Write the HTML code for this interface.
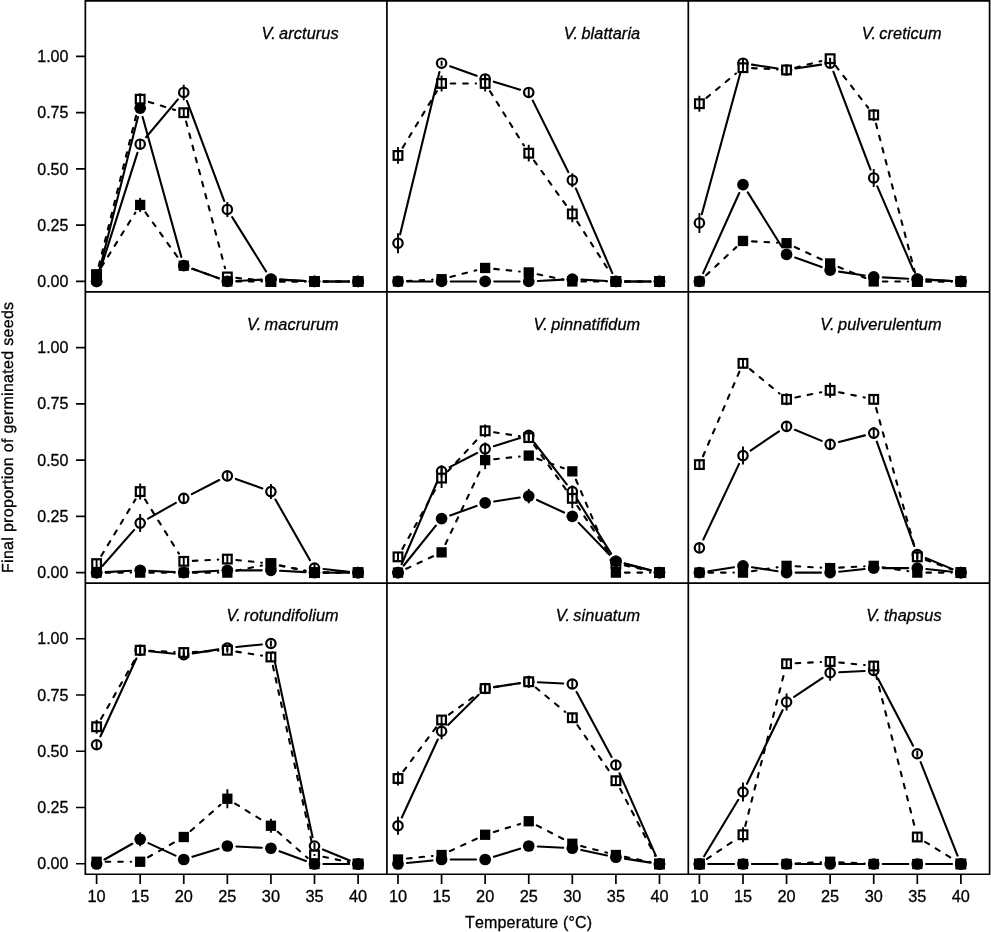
<!DOCTYPE html>
<html lang="en"><head><meta charset="utf-8"><title>Germination vs temperature</title>
<style>html,body{margin:0;padding:0;background:#fff}svg{display:block}</style></head>
<body>
<svg width="991" height="932" viewBox="0 0 991 932" font-family="'Liberation Sans', Arial, Helvetica, sans-serif" font-size="16" fill="#000" style="font-kerning:none" stroke="#000" stroke-width="0.3">
<rect width="991" height="932" fill="#fff" stroke="none"/>
<path d="M85.35 -0.05V875.12M386.9 -0.05V875.12M688.3 -0.05V875.12M989.6 -0.05V875.12M84.5 0.8H990.45M84.5 291.97H990.45M84.5 583.12H990.45M84.5 874.27H990.45M76.05 281.45H85.35M76.05 225.2H85.35M76.05 168.95H85.35M76.05 112.7H85.35M76.05 56.45H85.35M76.05 572.6H85.35M76.05 516.35H85.35M76.05 460.1H85.35M76.05 403.85H85.35M76.05 347.6H85.35M76.05 863.75H85.35M76.05 807.5H85.35M76.05 751.25H85.35M76.05 695H85.35M76.05 638.75H85.35M96.6 874.27V884.07M140.18 874.27V884.07M183.76 874.27V884.07M227.34 874.27V884.07M270.92 874.27V884.07M314.5 874.27V884.07M358.08 874.27V884.07M398 874.27V884.07M441.58 874.27V884.07M485.16 874.27V884.07M528.74 874.27V884.07M572.32 874.27V884.07M615.9 874.27V884.07M659.48 874.27V884.07M699.4 874.27V884.07M742.98 874.27V884.07M786.56 874.27V884.07M830.14 874.27V884.07M873.72 874.27V884.07M917.3 874.27V884.07M960.88 874.27V884.07" stroke="#000" stroke-width="1.7" fill="none"/>
<g text-anchor="end">
<text x="68.4" y="287.05">0.00</text>
<text x="68.4" y="230.8">0.25</text>
<text x="68.4" y="174.55">0.50</text>
<text x="68.4" y="118.3">0.75</text>
<text x="68.4" y="62.05">1.00</text>
<text x="68.4" y="578.2">0.00</text>
<text x="68.4" y="521.95">0.25</text>
<text x="68.4" y="465.7">0.50</text>
<text x="68.4" y="409.45">0.75</text>
<text x="68.4" y="353.2">1.00</text>
<text x="68.4" y="869.35">0.00</text>
<text x="68.4" y="813.1">0.25</text>
<text x="68.4" y="756.85">0.50</text>
<text x="68.4" y="700.6">0.75</text>
<text x="68.4" y="644.35">1.00</text>
</g>
<g text-anchor="middle" font-size="16.3">
<text x="96.6" y="902.2">10</text>
<text x="140.18" y="902.2">15</text>
<text x="183.76" y="902.2">20</text>
<text x="227.34" y="902.2">25</text>
<text x="270.92" y="902.2">30</text>
<text x="314.5" y="902.2">35</text>
<text x="358.08" y="902.2">40</text>
<text x="398" y="902.2">10</text>
<text x="441.58" y="902.2">15</text>
<text x="485.16" y="902.2">20</text>
<text x="528.74" y="902.2">25</text>
<text x="572.32" y="902.2">30</text>
<text x="615.9" y="902.2">35</text>
<text x="659.48" y="902.2">40</text>
<text x="699.4" y="902.2">10</text>
<text x="742.98" y="902.2">15</text>
<text x="786.56" y="902.2">20</text>
<text x="830.14" y="902.2">25</text>
<text x="873.72" y="902.2">30</text>
<text x="917.3" y="902.2">35</text>
<text x="960.88" y="902.2">40</text>
</g>
<g text-anchor="middle">
<text x="528.7" y="927.5" letter-spacing="0.16">Temperature (°C)</text>
<text transform="translate(12.75 437.3) rotate(-90)" letter-spacing="0.3" text-rendering="geometricPrecision">Final proportion of germinated seeds</text>
</g>
<g text-anchor="end" font-style="italic" font-size="16.3" style="font-kerning:normal" word-spacing="-1.4" letter-spacing="0.11">
<text x="338.75" y="38.7">V. arcturus</text>
<text x="640.3" y="38.7">V. blattaria</text>
<text x="941.7" y="38.7">V. creticum</text>
<text x="338.75" y="329.85">V. macrurum</text>
<text x="640.3" y="329.85">V. pinnatifidum</text>
<text x="941.7" y="329.85">V. pulverulentum</text>
<text x="338.75" y="621">V. rotundifolium</text>
<text x="640.3" y="621">V. sinuatum</text>
<text x="941.7" y="621">V. thapsus</text>
</g>
<g stroke="#000" stroke-width="2.1" fill="none" stroke-linecap="round">
<path d="M99.35 272.78L137.43 152.87M146.04 137.24L177.9 99.41M186.94 100.98L224.16 200.92M232.16 217.17L266.1 271.48M280.01 279.67L305.41 280.98M323.6 281.45L348.98 281.45"/>
<circle cx="96.6" cy="281.45" r="4.7" stroke-width="2.2" fill="#fff"/><circle cx="140.18" cy="144.2" r="4.7" stroke-width="2.2" fill="#fff"/><circle cx="183.76" cy="92.45" r="4.7" stroke-width="2.2" fill="#fff"/><circle cx="227.34" cy="209.45" r="4.7" stroke-width="2.2" fill="#fff"/><circle cx="270.92" cy="279.2" r="4.7" stroke-width="2.2" fill="#fff"/><circle cx="314.5" cy="281.45" r="4.7" stroke-width="2.2" fill="#fff"/><circle cx="358.08" cy="281.45" r="4.7" stroke-width="2.2" fill="#fff"/>
<path d="M98.79 265.87L137.99 108.03M148.87 101.89L175.07 110.01M186.09 121.5L225.01 268.15M236.39 277.88L261.87 280.52M280.02 281.45L305.4 281.45M323.6 281.45L348.98 281.45" stroke-dasharray="4.6 7.9"/>
<rect x="92.25" y="270.35" width="8.7" height="8.7" stroke-width="2.2" fill="#fff"/><rect x="135.83" y="94.85" width="8.7" height="8.7" stroke-width="2.2" fill="#fff"/><rect x="179.41" y="108.35" width="8.7" height="8.7" stroke-width="2.2" fill="#fff"/><rect x="222.99" y="272.6" width="8.7" height="8.7" stroke-width="2.2" fill="#fff"/><rect x="266.57" y="277.1" width="8.7" height="8.7" stroke-width="2.2" fill="#fff"/><rect x="310.15" y="277.1" width="8.7" height="8.7" stroke-width="2.2" fill="#fff"/><rect x="353.73" y="277.1" width="8.7" height="8.7" stroke-width="2.2" fill="#fff"/>
<path d="M140.18 139.7V148.7M183.76 84.65V100.25M227.34 201.95V216.95M270.92 274.7V283.7" stroke-linecap="butt" stroke-width="1.9"/>
<path d="M96.6 270.2V279.2M140.18 93.2V105.2M183.76 107.7V117.7M227.34 275.95V277.95" stroke-linecap="butt" stroke-width="1.9"/>
<path d="M98.82 272.62L137.96 117.03M142.61 116.97L181.33 256.93M192.32 268.79L218.78 278.36M236.43 280.98L261.83 279.67M280.01 279.67L305.41 280.98M323.6 281.45L348.98 281.45"/>
<circle cx="96.6" cy="281.45" r="5.85" fill="#000" stroke="none"/><circle cx="140.18" cy="108.2" r="5.85" fill="#000" stroke="none"/><circle cx="183.76" cy="265.7" r="5.85" fill="#000" stroke="none"/><circle cx="227.34" cy="281.45" r="5.85" fill="#000" stroke="none"/><circle cx="270.92" cy="279.2" r="5.85" fill="#000" stroke="none"/><circle cx="314.5" cy="281.45" r="5.85" fill="#000" stroke="none"/><circle cx="358.08" cy="281.45" r="5.85" fill="#000" stroke="none"/>
<path d="M101.42 266.98L135.36 212.67M145.48 212.34L178.46 258.31M192.32 268.79L218.78 278.36M236.44 281.45L261.82 281.45M280.02 281.45L305.4 281.45M323.6 281.45L348.98 281.45" stroke-dasharray="4.6 7.9"/>
<rect x="91.45" y="269.55" width="10.3" height="10.3" fill="#000" stroke="none"/><rect x="135.03" y="199.8" width="10.3" height="10.3" fill="#000" stroke="none"/><rect x="178.61" y="260.55" width="10.3" height="10.3" fill="#000" stroke="none"/><rect x="222.19" y="276.3" width="10.3" height="10.3" fill="#000" stroke="none"/><rect x="265.77" y="276.3" width="10.3" height="10.3" fill="#000" stroke="none"/><rect x="309.35" y="276.3" width="10.3" height="10.3" fill="#000" stroke="none"/><rect x="352.93" y="276.3" width="10.3" height="10.3" fill="#000" stroke="none"/>
<path d="M140.18 197.95V211.95" stroke-linecap="butt" stroke-width="1.9"/>
</g>
<g stroke="#000" stroke-width="2.1" fill="none" stroke-linecap="round">
<path d="M400.14 234.36L439.44 72.04M450.14 66.29L476.6 75.86M493.85 81.64L520.05 89.76M532.79 100.6L568.27 172.05M575.92 188.56L612.3 273.09M625 281.45L650.38 281.45"/>
<circle cx="398" cy="243.2" r="4.7" stroke-width="2.2" fill="#fff"/><circle cx="441.58" cy="63.2" r="4.7" stroke-width="2.2" fill="#fff"/><circle cx="485.16" cy="78.95" r="4.7" stroke-width="2.2" fill="#fff"/><circle cx="528.74" cy="92.45" r="4.7" stroke-width="2.2" fill="#fff"/><circle cx="572.32" cy="180.2" r="4.7" stroke-width="2.2" fill="#fff"/><circle cx="615.9" cy="281.45" r="4.7" stroke-width="2.2" fill="#fff"/><circle cx="659.48" cy="281.45" r="4.7" stroke-width="2.2" fill="#fff"/>
<path d="M402.71 147.66L436.87 91.24M450.68 83.45L476.06 83.45M489.98 91.17L523.92 145.48M534.04 160.59L567.02 206.56M577.26 221.6L610.96 273.8M625 281.45L650.38 281.45" stroke-dasharray="4.6 7.9"/>
<rect x="393.65" y="151.1" width="8.7" height="8.7" stroke-width="2.2" fill="#fff"/><rect x="437.23" y="79.1" width="8.7" height="8.7" stroke-width="2.2" fill="#fff"/><rect x="480.81" y="79.1" width="8.7" height="8.7" stroke-width="2.2" fill="#fff"/><rect x="524.39" y="148.85" width="8.7" height="8.7" stroke-width="2.2" fill="#fff"/><rect x="567.97" y="209.6" width="8.7" height="8.7" stroke-width="2.2" fill="#fff"/><rect x="611.55" y="277.1" width="8.7" height="8.7" stroke-width="2.2" fill="#fff"/><rect x="655.13" y="277.1" width="8.7" height="8.7" stroke-width="2.2" fill="#fff"/>
<path d="M398 233.2V253.2M441.58 60.7V65.7M485.16 73.95V83.95M528.74 87.45V97.45M572.32 173.2V187.2" stroke-linecap="butt" stroke-width="1.9"/>
<path d="M398 147.05V163.85M441.58 75.45V91.45M485.16 75.45V91.45M528.74 144.8V161.6M572.32 205.55V222.35" stroke-linecap="butt" stroke-width="1.9"/>
<path d="M407.1 281.45L432.48 281.45M450.68 281.45L476.06 281.45M494.26 281.45L519.64 281.45M537.83 280.98L563.23 279.67M581.41 279.67L606.81 280.98M625 281.45L650.38 281.45"/>
<circle cx="398" cy="281.45" r="5.85" fill="#000" stroke="none"/><circle cx="441.58" cy="281.45" r="5.85" fill="#000" stroke="none"/><circle cx="485.16" cy="281.45" r="5.85" fill="#000" stroke="none"/><circle cx="528.74" cy="281.45" r="5.85" fill="#000" stroke="none"/><circle cx="572.32" cy="279.2" r="5.85" fill="#000" stroke="none"/><circle cx="615.9" cy="281.45" r="5.85" fill="#000" stroke="none"/><circle cx="659.48" cy="281.45" r="5.85" fill="#000" stroke="none"/>
<path d="M407.09 280.98L432.49 279.67M450.39 276.93L476.35 270.22M494.21 268.88L519.69 271.52M537.65 274.29L563.41 279.61M581.42 281.45L606.8 281.45M625 281.45L650.38 281.45" stroke-dasharray="4.6 7.9"/>
<rect x="392.85" y="276.3" width="10.3" height="10.3" fill="#000" stroke="none"/><rect x="436.43" y="274.05" width="10.3" height="10.3" fill="#000" stroke="none"/><rect x="480.01" y="262.8" width="10.3" height="10.3" fill="#000" stroke="none"/><rect x="523.59" y="267.3" width="10.3" height="10.3" fill="#000" stroke="none"/><rect x="567.17" y="276.3" width="10.3" height="10.3" fill="#000" stroke="none"/><rect x="610.75" y="276.3" width="10.3" height="10.3" fill="#000" stroke="none"/><rect x="654.33" y="276.3" width="10.3" height="10.3" fill="#000" stroke="none"/>
</g>
<g stroke="#000" stroke-width="2.1" fill="none" stroke-linecap="round">
<path d="M701.79 214.17L740.59 71.98M751.97 64.59L777.57 68.56M795.55 68.56L821.15 64.59M833.37 71.71L870.49 169.44M877.32 186.31L913.7 270.84M926.39 279.67L951.79 280.98"/>
<circle cx="699.4" cy="222.95" r="4.7" stroke-width="2.2" fill="#fff"/><circle cx="742.98" cy="63.2" r="4.7" stroke-width="2.2" fill="#fff"/><circle cx="786.56" cy="69.95" r="4.7" stroke-width="2.2" fill="#fff"/><circle cx="830.14" cy="63.2" r="4.7" stroke-width="2.2" fill="#fff"/><circle cx="873.72" cy="177.95" r="4.7" stroke-width="2.2" fill="#fff"/><circle cx="917.3" cy="279.2" r="4.7" stroke-width="2.2" fill="#fff"/><circle cx="960.88" cy="281.45" r="4.7" stroke-width="2.2" fill="#fff"/>
<path d="M706.42 97.9L735.96 73.5M752.07 68.17L777.47 69.48M795.37 67.68L821.33 60.97M835.71 65.89L868.15 107.76M876.02 123.75L915 272.65M926.4 281.45L951.78 281.45" stroke-dasharray="4.6 7.9"/>
<rect x="695.05" y="99.35" width="8.7" height="8.7" stroke-width="2.2" fill="#fff"/><rect x="738.63" y="63.35" width="8.7" height="8.7" stroke-width="2.2" fill="#fff"/><rect x="782.21" y="65.6" width="8.7" height="8.7" stroke-width="2.2" fill="#fff"/><rect x="825.79" y="54.35" width="8.7" height="8.7" stroke-width="2.2" fill="#fff"/><rect x="869.37" y="110.6" width="8.7" height="8.7" stroke-width="2.2" fill="#fff"/><rect x="912.95" y="277.1" width="8.7" height="8.7" stroke-width="2.2" fill="#fff"/><rect x="956.53" y="277.1" width="8.7" height="8.7" stroke-width="2.2" fill="#fff"/>
<path d="M699.4 212.95V232.95M742.98 58.2V68.2M786.56 65.95V73.95M830.14 58.6V67.8M873.72 168.95V186.95M917.3 274.7V283.7" stroke-linecap="butt" stroke-width="1.9"/>
<path d="M699.4 95.7V111.7M742.98 62.7V72.7M786.56 64.95V74.95M830.14 57.7V59.7M873.72 108.95V120.95" stroke-linecap="butt" stroke-width="1.9"/>
<path d="M703.14 273.15L739.24 193M747.8 192.42L781.74 246.73M795.12 257.54L821.58 267.11M839.13 271.59L864.73 275.56M882.81 277.42L908.21 278.73M926.39 279.67L951.79 280.98"/>
<circle cx="699.4" cy="281.45" r="5.85" fill="#000" stroke="none"/><circle cx="742.98" cy="184.7" r="5.85" fill="#000" stroke="none"/><circle cx="786.56" cy="254.45" r="5.85" fill="#000" stroke="none"/><circle cx="830.14" cy="270.2" r="5.85" fill="#000" stroke="none"/><circle cx="873.72" cy="276.95" r="5.85" fill="#000" stroke="none"/><circle cx="917.3" cy="279.2" r="5.85" fill="#000" stroke="none"/><circle cx="960.88" cy="281.45" r="5.85" fill="#000" stroke="none"/>
<path d="M706.07 275.26L736.31 247.14M752.07 241.42L777.47 242.73M794.81 247.03L821.89 259.62M838.55 266.92L865.31 277.98M882.82 281.45L908.2 281.45M926.4 281.45L951.78 281.45" stroke-dasharray="4.6 7.9"/>
<rect x="694.25" y="276.3" width="10.3" height="10.3" fill="#000" stroke="none"/><rect x="737.83" y="235.8" width="10.3" height="10.3" fill="#000" stroke="none"/><rect x="781.41" y="238.05" width="10.3" height="10.3" fill="#000" stroke="none"/><rect x="824.99" y="258.3" width="10.3" height="10.3" fill="#000" stroke="none"/><rect x="868.57" y="276.3" width="10.3" height="10.3" fill="#000" stroke="none"/><rect x="912.15" y="276.3" width="10.3" height="10.3" fill="#000" stroke="none"/><rect x="955.73" y="276.3" width="10.3" height="10.3" fill="#000" stroke="none"/>
</g>
<g stroke="#000" stroke-width="2.1" fill="none" stroke-linecap="round">
<path d="M102.61 565.77L134.17 529.93M148.09 518.61L175.85 502.84M191.85 494.18L219.25 480.02M235.9 478.94L262.36 488.51M275.42 499.51L310 560.19M323.55 569.03L349.03 571.67"/>
<circle cx="96.6" cy="572.6" r="4.7" stroke-width="2.2" fill="#fff"/><circle cx="140.18" cy="523.1" r="4.7" stroke-width="2.2" fill="#fff"/><circle cx="183.76" cy="498.35" r="4.7" stroke-width="2.2" fill="#fff"/><circle cx="227.34" cy="475.85" r="4.7" stroke-width="2.2" fill="#fff"/><circle cx="270.92" cy="491.6" r="4.7" stroke-width="2.2" fill="#fff"/><circle cx="314.5" cy="568.1" r="4.7" stroke-width="2.2" fill="#fff"/><circle cx="358.08" cy="572.6" r="4.7" stroke-width="2.2" fill="#fff"/>
<path d="M101.31 555.81L135.47 499.39M145 499.32L178.94 553.63M192.85 560.88L218.25 559.57M236.39 560.03L261.87 562.67M279.83 565.44L305.59 570.76M323.6 572.6L348.98 572.6" stroke-dasharray="4.6 7.9"/>
<rect x="92.25" y="559.25" width="8.7" height="8.7" stroke-width="2.2" fill="#fff"/><rect x="135.83" y="487.25" width="8.7" height="8.7" stroke-width="2.2" fill="#fff"/><rect x="179.41" y="557" width="8.7" height="8.7" stroke-width="2.2" fill="#fff"/><rect x="222.99" y="554.75" width="8.7" height="8.7" stroke-width="2.2" fill="#fff"/><rect x="266.57" y="559.25" width="8.7" height="8.7" stroke-width="2.2" fill="#fff"/><rect x="310.15" y="568.25" width="8.7" height="8.7" stroke-width="2.2" fill="#fff"/><rect x="353.73" y="568.25" width="8.7" height="8.7" stroke-width="2.2" fill="#fff"/>
<path d="M140.18 514.1V532.1M183.76 494.35V502.35M227.34 471.85V479.85M270.92 484.1V499.1M314.5 563.6V572.6" stroke-linecap="butt" stroke-width="1.9"/>
<path d="M96.6 559.6V567.6M140.18 483.6V499.6M183.76 556.35V566.35M227.34 554.1V564.1M270.92 559.1V568.1" stroke-linecap="butt" stroke-width="1.9"/>
<path d="M105.69 572.13L131.09 570.82M149.27 570.82L174.67 572.13M192.85 572.13L218.25 570.82M236.44 570.35L261.82 570.35M280.01 570.82L305.41 572.13M323.6 572.6L348.98 572.6"/>
<circle cx="96.6" cy="572.6" r="5.85" fill="#000" stroke="none"/><circle cx="140.18" cy="570.35" r="5.85" fill="#000" stroke="none"/><circle cx="183.76" cy="572.6" r="5.85" fill="#000" stroke="none"/><circle cx="227.34" cy="570.35" r="5.85" fill="#000" stroke="none"/><circle cx="270.92" cy="570.35" r="5.85" fill="#000" stroke="none"/><circle cx="314.5" cy="572.6" r="5.85" fill="#000" stroke="none"/><circle cx="358.08" cy="572.6" r="5.85" fill="#000" stroke="none"/>
<path d="M105.7 572.6L131.08 572.6M149.28 572.6L174.66 572.6M192.86 572.6L218.24 572.6M236.25 570.76L262.01 565.44M279.83 565.44L305.59 570.76M323.6 572.6L348.98 572.6" stroke-dasharray="4.6 7.9"/>
<rect x="91.45" y="567.45" width="10.3" height="10.3" fill="#000" stroke="none"/><rect x="135.03" y="567.45" width="10.3" height="10.3" fill="#000" stroke="none"/><rect x="178.61" y="567.45" width="10.3" height="10.3" fill="#000" stroke="none"/><rect x="222.19" y="567.45" width="10.3" height="10.3" fill="#000" stroke="none"/><rect x="265.77" y="558.45" width="10.3" height="10.3" fill="#000" stroke="none"/><rect x="309.35" y="567.45" width="10.3" height="10.3" fill="#000" stroke="none"/><rect x="352.93" y="567.45" width="10.3" height="10.3" fill="#000" stroke="none"/>
</g>
<g stroke="#000" stroke-width="2.1" fill="none" stroke-linecap="round">
<path d="M401.6 564.24L437.98 479.71M449.67 467.18L477.07 453.02M493.85 446.16L520.05 438.04M534.31 442.54L566.75 484.41M577.14 499.32L611.08 553.63M624.71 563.62L650.67 570.33"/>
<circle cx="398" cy="572.6" r="4.7" stroke-width="2.2" fill="#fff"/><circle cx="441.58" cy="471.35" r="4.7" stroke-width="2.2" fill="#fff"/><circle cx="485.16" cy="448.85" r="4.7" stroke-width="2.2" fill="#fff"/><circle cx="528.74" cy="435.35" r="4.7" stroke-width="2.2" fill="#fff"/><circle cx="572.32" cy="491.6" r="4.7" stroke-width="2.2" fill="#fff"/><circle cx="615.9" cy="561.35" r="4.7" stroke-width="2.2" fill="#fff"/><circle cx="659.48" cy="572.6" r="4.7" stroke-width="2.2" fill="#fff"/>
<path d="M402.41 548.89L437.17 486.06M447.75 471.41L478.99 437.54M494.15 432.24L519.75 436.21M534.04 444.99L567.02 490.96M577.37 505.92L610.85 556.03M624.81 565.44L650.57 570.76" stroke-dasharray="4.6 7.9"/>
<rect x="393.65" y="552.5" width="8.7" height="8.7" stroke-width="2.2" fill="#fff"/><rect x="437.23" y="473.75" width="8.7" height="8.7" stroke-width="2.2" fill="#fff"/><rect x="480.81" y="426.5" width="8.7" height="8.7" stroke-width="2.2" fill="#fff"/><rect x="524.39" y="433.25" width="8.7" height="8.7" stroke-width="2.2" fill="#fff"/><rect x="567.97" y="494" width="8.7" height="8.7" stroke-width="2.2" fill="#fff"/><rect x="611.55" y="559.25" width="8.7" height="8.7" stroke-width="2.2" fill="#fff"/><rect x="655.13" y="568.25" width="8.7" height="8.7" stroke-width="2.2" fill="#fff"/>
<path d="M441.58 465.35V477.35M485.16 442.45V455.25M528.74 430.35V440.35M572.32 485.6V497.6M615.9 556.85V565.85" stroke-linecap="butt" stroke-width="1.9"/>
<path d="M398 552.85V560.85M441.58 468.1V488.1M485.16 424.45V437.25M528.74 432.6V442.6M572.32 488.35V508.35M615.9 559.1V568.1" stroke-linecap="butt" stroke-width="1.9"/>
<path d="M403.72 565.52L435.86 525.68M450.14 515.51L476.6 505.94M494.15 501.46L519.75 497.49M536.99 499.93L564.07 512.52M578.65 522.89L609.57 554.81M624.71 563.62L650.67 570.33"/>
<circle cx="398" cy="572.6" r="5.85" fill="#000" stroke="none"/><circle cx="441.58" cy="518.6" r="5.85" fill="#000" stroke="none"/><circle cx="485.16" cy="502.85" r="5.85" fill="#000" stroke="none"/><circle cx="528.74" cy="496.1" r="5.85" fill="#000" stroke="none"/><circle cx="572.32" cy="516.35" r="5.85" fill="#000" stroke="none"/><circle cx="615.9" cy="561.35" r="5.85" fill="#000" stroke="none"/><circle cx="659.48" cy="572.6" r="5.85" fill="#000" stroke="none"/>
<path d="M406.25 568.77L433.33 556.18M445.47 544.12L481.27 468.33M494.21 459.17L519.69 456.53M537.3 458.69L563.76 468.26M575.92 479.71L612.3 564.24M625 572.6L650.38 572.6" stroke-dasharray="4.6 7.9"/>
<rect x="392.85" y="567.45" width="10.3" height="10.3" fill="#000" stroke="none"/><rect x="436.43" y="547.2" width="10.3" height="10.3" fill="#000" stroke="none"/><rect x="480.01" y="454.95" width="10.3" height="10.3" fill="#000" stroke="none"/><rect x="523.59" y="450.45" width="10.3" height="10.3" fill="#000" stroke="none"/><rect x="567.17" y="466.2" width="10.3" height="10.3" fill="#000" stroke="none"/><rect x="610.75" y="567.45" width="10.3" height="10.3" fill="#000" stroke="none"/><rect x="654.33" y="567.45" width="10.3" height="10.3" fill="#000" stroke="none"/>
<path d="M528.74 488.9V503.3" stroke-linecap="butt" stroke-width="1.9"/>
<path d="M485.16 451.1V469.1" stroke-linecap="butt" stroke-width="1.9"/>
</g>
<g stroke="#000" stroke-width="2.1" fill="none" stroke-linecap="round">
<path d="M703.29 539.62L739.09 463.83M750.54 450.53L779 431.42M794.97 429.82L821.73 440.88M838.95 442.08L864.91 435.37M876.79 441.67L914.23 546.03M925.71 558.07L952.47 569.13"/>
<circle cx="699.4" cy="547.85" r="4.7" stroke-width="2.2" fill="#fff"/><circle cx="742.98" cy="455.6" r="4.7" stroke-width="2.2" fill="#fff"/><circle cx="786.56" cy="426.35" r="4.7" stroke-width="2.2" fill="#fff"/><circle cx="830.14" cy="444.35" r="4.7" stroke-width="2.2" fill="#fff"/><circle cx="873.72" cy="433.1" r="4.7" stroke-width="2.2" fill="#fff"/><circle cx="917.3" cy="554.6" r="4.7" stroke-width="2.2" fill="#fff"/><circle cx="960.88" cy="572.6" r="4.7" stroke-width="2.2" fill="#fff"/>
<path d="M703 456.24L739.38 371.71M750 369.15L779.54 393.55M795.47 397.51L821.23 392.19M839.05 392.19L864.81 397.51M876.15 408.12L914.87 548.08M925.86 559.94L952.32 569.51" stroke-dasharray="4.6 7.9"/>
<rect x="695.05" y="460.25" width="8.7" height="8.7" stroke-width="2.2" fill="#fff"/><rect x="738.63" y="359" width="8.7" height="8.7" stroke-width="2.2" fill="#fff"/><rect x="782.21" y="395" width="8.7" height="8.7" stroke-width="2.2" fill="#fff"/><rect x="825.79" y="386" width="8.7" height="8.7" stroke-width="2.2" fill="#fff"/><rect x="869.37" y="395" width="8.7" height="8.7" stroke-width="2.2" fill="#fff"/><rect x="912.95" y="552.5" width="8.7" height="8.7" stroke-width="2.2" fill="#fff"/><rect x="956.53" y="568.25" width="8.7" height="8.7" stroke-width="2.2" fill="#fff"/>
<path d="M699.4 543.85V551.85M742.98 446.6V464.6M786.56 421.35V431.35M830.14 439.35V449.35M873.72 427.1V439.1M917.3 550.1V559.1" stroke-linecap="butt" stroke-width="1.9"/>
<path d="M699.4 460.1V469.1M742.98 358.85V367.85M786.56 393.35V405.35M830.14 382.85V397.85M873.72 394.35V404.35M917.3 552.85V560.85" stroke-linecap="butt" stroke-width="1.9"/>
<path d="M708.39 571.21L733.99 567.24M751.97 567.24L777.57 571.21M795.66 572.6L821.04 572.6M839.19 571.67L864.67 569.03M882.82 568.1L908.2 568.1M926.35 569.03L951.83 571.67"/>
<circle cx="699.4" cy="572.6" r="5.85" fill="#000" stroke="none"/><circle cx="742.98" cy="565.85" r="5.85" fill="#000" stroke="none"/><circle cx="786.56" cy="572.6" r="5.85" fill="#000" stroke="none"/><circle cx="830.14" cy="572.6" r="5.85" fill="#000" stroke="none"/><circle cx="873.72" cy="568.1" r="5.85" fill="#000" stroke="none"/><circle cx="917.3" cy="568.1" r="5.85" fill="#000" stroke="none"/><circle cx="960.88" cy="572.6" r="5.85" fill="#000" stroke="none"/>
<path d="M708.5 572.6L733.88 572.6M751.97 571.21L777.57 567.24M795.65 566.32L821.05 567.63M839.23 567.63L864.63 566.32M882.71 567.24L908.31 571.21M926.4 572.6L951.78 572.6" stroke-dasharray="4.6 7.9"/>
<rect x="694.25" y="567.45" width="10.3" height="10.3" fill="#000" stroke="none"/><rect x="737.83" y="567.45" width="10.3" height="10.3" fill="#000" stroke="none"/><rect x="781.41" y="560.7" width="10.3" height="10.3" fill="#000" stroke="none"/><rect x="824.99" y="562.95" width="10.3" height="10.3" fill="#000" stroke="none"/><rect x="868.57" y="560.7" width="10.3" height="10.3" fill="#000" stroke="none"/><rect x="912.15" y="567.45" width="10.3" height="10.3" fill="#000" stroke="none"/><rect x="955.73" y="567.45" width="10.3" height="10.3" fill="#000" stroke="none"/>
</g>
<g stroke="#000" stroke-width="2.1" fill="none" stroke-linecap="round">
<path d="M100.41 736.49L136.37 658.51M149.23 651.18L174.71 653.82M192.75 653.36L218.35 649.39M236.39 647.07L261.87 644.43M272.83 652.4L312.59 837.1M322.91 849.47L349.67 860.53"/>
<circle cx="96.6" cy="744.75" r="4.7" stroke-width="2.2" fill="#fff"/><circle cx="140.18" cy="650.25" r="4.7" stroke-width="2.2" fill="#fff"/><circle cx="183.76" cy="654.75" r="4.7" stroke-width="2.2" fill="#fff"/><circle cx="227.34" cy="648" r="4.7" stroke-width="2.2" fill="#fff"/><circle cx="270.92" cy="643.5" r="4.7" stroke-width="2.2" fill="#fff"/><circle cx="314.5" cy="846" r="4.7" stroke-width="2.2" fill="#fff"/><circle cx="358.08" cy="864" r="4.7" stroke-width="2.2" fill="#fff"/>
<path d="M101.1 718.84L135.68 658.16M149.27 650.72L174.67 652.03M192.85 652.03L218.25 650.72M236.33 651.64L261.93 655.61M272.88 665.89L312.54 846.11M323.41 856.84L349.17 862.16" stroke-dasharray="4.6 7.9"/>
<rect x="92.25" y="722.4" width="8.7" height="8.7" stroke-width="2.2" fill="#fff"/><rect x="135.83" y="645.9" width="8.7" height="8.7" stroke-width="2.2" fill="#fff"/><rect x="179.41" y="648.15" width="8.7" height="8.7" stroke-width="2.2" fill="#fff"/><rect x="222.99" y="645.9" width="8.7" height="8.7" stroke-width="2.2" fill="#fff"/><rect x="266.57" y="652.65" width="8.7" height="8.7" stroke-width="2.2" fill="#fff"/><rect x="310.15" y="850.65" width="8.7" height="8.7" stroke-width="2.2" fill="#fff"/><rect x="353.73" y="859.65" width="8.7" height="8.7" stroke-width="2.2" fill="#fff"/>
<path d="M96.6 740.75V748.75M140.18 647.25V653.25M183.76 651.75V657.75M227.34 645V651M270.92 640.5V646.5M314.5 843V849" stroke-linecap="butt" stroke-width="1.9"/>
<path d="M96.6 719.75V733.75M140.18 645.75V654.75M183.76 648V657M227.34 647.75V652.75M270.92 652.5V661.5M314.5 854V856" stroke-linecap="butt" stroke-width="1.9"/>
<path d="M104.51 859.51L132.27 843.74M148.43 843.08L175.51 855.67M192.45 856.81L218.65 848.69M236.43 846.47L261.83 847.78M279.48 851.34L305.94 860.91M323.6 864L348.98 864"/>
<circle cx="96.6" cy="864" r="5.85" fill="#000" stroke="none"/><circle cx="140.18" cy="839.25" r="5.85" fill="#000" stroke="none"/><circle cx="183.76" cy="859.5" r="5.85" fill="#000" stroke="none"/><circle cx="227.34" cy="846" r="5.85" fill="#000" stroke="none"/><circle cx="270.92" cy="848.25" r="5.85" fill="#000" stroke="none"/><circle cx="314.5" cy="864" r="5.85" fill="#000" stroke="none"/><circle cx="358.08" cy="864" r="5.85" fill="#000" stroke="none"/>
<path d="M105.7 861.75L131.08 861.75M148.09 857.26L175.85 841.49M190.6 831L220.5 804.75M235.08 803.54L263.18 820.96M277.76 831.75L307.66 858M323.6 864L348.98 864" stroke-dasharray="4.6 7.9"/>
<rect x="91.45" y="856.6" width="10.3" height="10.3" fill="#000" stroke="none"/><rect x="135.03" y="856.6" width="10.3" height="10.3" fill="#000" stroke="none"/><rect x="178.61" y="831.85" width="10.3" height="10.3" fill="#000" stroke="none"/><rect x="222.19" y="793.6" width="10.3" height="10.3" fill="#000" stroke="none"/><rect x="265.77" y="820.6" width="10.3" height="10.3" fill="#000" stroke="none"/><rect x="309.35" y="858.85" width="10.3" height="10.3" fill="#000" stroke="none"/><rect x="352.93" y="858.85" width="10.3" height="10.3" fill="#000" stroke="none"/>
<path d="M140.18 832.25V846.25" stroke-linecap="butt" stroke-width="1.9"/>
<path d="M227.34 789.25V808.25M270.92 818.75V832.75" stroke-linecap="butt" stroke-width="1.9"/>
</g>
<g stroke="#000" stroke-width="2.1" fill="none" stroke-linecap="round">
<path d="M401.81 817.49L437.77 739.51M448.08 724.88L478.66 694.87M494.15 687.11L519.75 683.14M537.83 682.22L563.23 683.53M576.63 692.01L611.59 756.99M619.57 773.33L655.81 855.67"/>
<circle cx="398" cy="825.75" r="4.7" stroke-width="2.2" fill="#fff"/><circle cx="441.58" cy="731.25" r="4.7" stroke-width="2.2" fill="#fff"/><circle cx="485.16" cy="688.5" r="4.7" stroke-width="2.2" fill="#fff"/><circle cx="528.74" cy="681.75" r="4.7" stroke-width="2.2" fill="#fff"/><circle cx="572.32" cy="684" r="4.7" stroke-width="2.2" fill="#fff"/><circle cx="615.9" cy="765" r="4.7" stroke-width="2.2" fill="#fff"/><circle cx="659.48" cy="864" r="4.7" stroke-width="2.2" fill="#fff"/>
<path d="M403.44 771.2L436.14 727.3M448.96 714.67L477.78 693.83M494.15 687.11L519.75 683.14M535.76 687.55L565.3 711.95M577.5 725.23L610.72 773.27M620.12 788.81L655.26 855.94" stroke-dasharray="4.6 7.9"/>
<rect x="393.65" y="774.15" width="8.7" height="8.7" stroke-width="2.2" fill="#fff"/><rect x="437.23" y="715.65" width="8.7" height="8.7" stroke-width="2.2" fill="#fff"/><rect x="480.81" y="684.15" width="8.7" height="8.7" stroke-width="2.2" fill="#fff"/><rect x="524.39" y="677.4" width="8.7" height="8.7" stroke-width="2.2" fill="#fff"/><rect x="567.97" y="713.4" width="8.7" height="8.7" stroke-width="2.2" fill="#fff"/><rect x="611.55" y="776.4" width="8.7" height="8.7" stroke-width="2.2" fill="#fff"/><rect x="655.13" y="859.65" width="8.7" height="8.7" stroke-width="2.2" fill="#fff"/>
<path d="M398 816.75V834.75M441.58 723.25V739.25M485.16 684.5V692.5M528.74 677.75V685.75M572.32 679V689M615.9 760V770" stroke-linecap="butt" stroke-width="1.9"/>
<path d="M398 771.5V785.5M441.58 715V725M485.16 683.5V693.5M528.74 675.75V687.75M572.32 712.75V722.75M615.9 775.75V785.75" stroke-linecap="butt" stroke-width="1.9"/>
<path d="M407.05 863.07L432.53 860.43M450.68 859.5L476.06 859.5M493.85 856.81L520.05 848.69M537.83 846.47L563.23 847.78M581.23 850.09L606.99 855.41M624.89 858.64L650.49 862.61"/>
<circle cx="398" cy="864" r="5.85" fill="#000" stroke="none"/><circle cx="441.58" cy="859.5" r="5.85" fill="#000" stroke="none"/><circle cx="485.16" cy="859.5" r="5.85" fill="#000" stroke="none"/><circle cx="528.74" cy="846" r="5.85" fill="#000" stroke="none"/><circle cx="572.32" cy="848.25" r="5.85" fill="#000" stroke="none"/><circle cx="615.9" cy="857.25" r="5.85" fill="#000" stroke="none"/><circle cx="659.48" cy="864" r="5.85" fill="#000" stroke="none"/>
<path d="M407.05 858.57L432.53 855.93M449.83 851.17L476.91 838.58M493.85 832.06L520.05 823.94M536.83 825.42L564.23 839.58M581.13 846.02L607.09 852.73M624.81 856.84L650.57 862.16" stroke-dasharray="4.6 7.9"/>
<rect x="392.85" y="854.35" width="10.3" height="10.3" fill="#000" stroke="none"/><rect x="436.43" y="849.85" width="10.3" height="10.3" fill="#000" stroke="none"/><rect x="480.01" y="829.6" width="10.3" height="10.3" fill="#000" stroke="none"/><rect x="523.59" y="816.1" width="10.3" height="10.3" fill="#000" stroke="none"/><rect x="567.17" y="838.6" width="10.3" height="10.3" fill="#000" stroke="none"/><rect x="610.75" y="849.85" width="10.3" height="10.3" fill="#000" stroke="none"/><rect x="654.33" y="858.85" width="10.3" height="10.3" fill="#000" stroke="none"/>
</g>
<g stroke="#000" stroke-width="2.1" fill="none" stroke-linecap="round">
<path d="M704.11 856.21L738.27 799.79M746.95 783.81L782.59 710.19M794.12 696.93L822.58 677.82M839.23 672.28L864.63 670.97M877.94 678.56L913.08 745.69M920.65 762.21L957.53 855.54"/>
<circle cx="699.4" cy="864" r="4.7" stroke-width="2.2" fill="#fff"/><circle cx="742.98" cy="792" r="4.7" stroke-width="2.2" fill="#fff"/><circle cx="786.56" cy="702" r="4.7" stroke-width="2.2" fill="#fff"/><circle cx="830.14" cy="672.75" r="4.7" stroke-width="2.2" fill="#fff"/><circle cx="873.72" cy="670.5" r="4.7" stroke-width="2.2" fill="#fff"/><circle cx="917.3" cy="753.75" r="4.7" stroke-width="2.2" fill="#fff"/><circle cx="960.88" cy="864" r="4.7" stroke-width="2.2" fill="#fff"/>
<path d="M706.96 858.93L735.42 839.82M745.23 825.93L784.31 672.57M795.65 663.28L821.05 661.97M839.19 662.43L864.67 665.07M875.97 674.82L915.05 828.18M925.04 841.79L953.14 859.21" stroke-dasharray="4.6 7.9"/>
<rect x="695.05" y="859.65" width="8.7" height="8.7" stroke-width="2.2" fill="#fff"/><rect x="738.63" y="830.4" width="8.7" height="8.7" stroke-width="2.2" fill="#fff"/><rect x="782.21" y="659.4" width="8.7" height="8.7" stroke-width="2.2" fill="#fff"/><rect x="825.79" y="657.15" width="8.7" height="8.7" stroke-width="2.2" fill="#fff"/><rect x="869.37" y="661.65" width="8.7" height="8.7" stroke-width="2.2" fill="#fff"/><rect x="912.95" y="832.65" width="8.7" height="8.7" stroke-width="2.2" fill="#fff"/><rect x="956.53" y="859.65" width="8.7" height="8.7" stroke-width="2.2" fill="#fff"/>
<path d="M742.98 782.5V801.5M786.56 693.5V710.5M830.14 664.75V680.75M873.72 665.5V675.5M917.3 750.75V756.75" stroke-linecap="butt" stroke-width="1.9"/>
<path d="M742.98 827.25V842.25M786.56 659.25V668.25M830.14 656.5V666.5M873.72 661V671M917.3 832.5V841.5" stroke-linecap="butt" stroke-width="1.9"/>
<path d="M708.5 864L733.88 864M752.08 864L777.46 864M795.66 864L821.04 864M839.24 864L864.62 864M882.82 864L908.2 864M926.4 864L951.78 864"/>
<circle cx="699.4" cy="864" r="5.85" fill="#000" stroke="none"/><circle cx="742.98" cy="864" r="5.85" fill="#000" stroke="none"/><circle cx="786.56" cy="864" r="5.85" fill="#000" stroke="none"/><circle cx="830.14" cy="864" r="5.85" fill="#000" stroke="none"/><circle cx="873.72" cy="864" r="5.85" fill="#000" stroke="none"/><circle cx="917.3" cy="864" r="5.85" fill="#000" stroke="none"/><circle cx="960.88" cy="864" r="5.85" fill="#000" stroke="none"/>
<path d="M708.5 864L733.88 864M752.08 864L777.46 864M795.65 863.53L821.05 862.22M839.23 862.22L864.63 863.53M882.82 864L908.2 864M926.4 864L951.78 864" stroke-dasharray="4.6 7.9"/>
<rect x="694.25" y="858.85" width="10.3" height="10.3" fill="#000" stroke="none"/><rect x="737.83" y="858.85" width="10.3" height="10.3" fill="#000" stroke="none"/><rect x="781.41" y="858.85" width="10.3" height="10.3" fill="#000" stroke="none"/><rect x="824.99" y="856.6" width="10.3" height="10.3" fill="#000" stroke="none"/><rect x="868.57" y="858.85" width="10.3" height="10.3" fill="#000" stroke="none"/><rect x="912.15" y="858.85" width="10.3" height="10.3" fill="#000" stroke="none"/><rect x="955.73" y="858.85" width="10.3" height="10.3" fill="#000" stroke="none"/>
</g>
</svg>
</body></html>
